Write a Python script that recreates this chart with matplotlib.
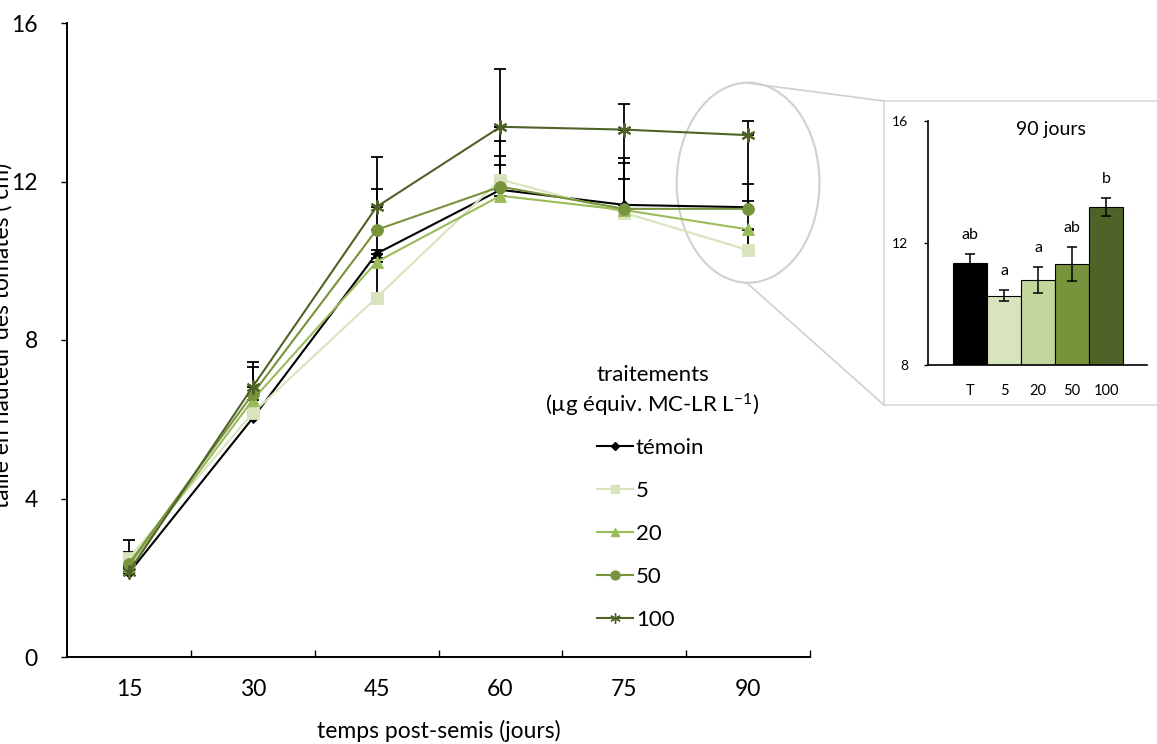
"""
Croissance en hauteur des tomates selon le traitement (MC-LR)
"""

import numpy as np
import matplotlib
matplotlib.use("Agg")
import matplotlib.pyplot as plt
from matplotlib.lines import Line2D
from matplotlib.patches import Ellipse, Rectangle

# données
jours = ["15", "30", "45", "60", "75", "90"]
noms = ["témoin", "5", "20", "50", "100"]

temoin = [2.12, 6.03, 10.18, 11.79, 11.41, 11.35]
t5 = [2.50, 6.16, 9.07, 12.05, 11.21, 10.27]
t20 = [2.30, 6.49, 9.97, 11.64, 11.28, 10.79]
t50 = [2.35, 6.64, 10.78, 11.87, 11.31, 11.31]
t100 = [2.15, 6.82, 11.36, 13.38, 13.31, 13.17]

err_temoin = [0.10, 0.12, 0.10, 0.63, 1.90, 0.16]
err_5 = [0.45, 0.12, 1.71, 0.98, 0.86, 0.50]
err_20 = [0.10, 0.10, 0.10, 1.74, 1.19, 2.40]
err_50 = [0.30, 0.68, 1.02, 0.78, 1.29, 0.63]
err_100 = [0.10, 0.63, 1.27, 1.47, 0.65, 0.36]

# encart 90 jours
encart_noms = ["T", "5", "20", "50", "100"]
encart_err = [0.30, 0.18, 0.42, 0.57, 0.30]
encart_lettres = ["ab", "a", "a", "ab", "b"]

couleurs = ["#000000", "#D7E4BD", "#9BBB59", "#77933C", "#4F6228"]
couleurs_barres = ["#000000", "#D7E4BD", "#C3D69B", "#77933C", "#4F6228"]

plt.rcParams["font.family"] = ["Lato", "DejaVu Sans"]
plt.rcParams["mathtext.default"] = "regular"

W, H = 1157, 744


def fx(x):
    return x / W


def fy(y):
    return 1 - y / H


def main():
    fig = plt.figure(figsize=(W / 100, H / 100), dpi=100)

    # graphique principal
    ax = fig.add_axes([fx(67), fy(657), (810 - 67) / W, (657 - 23) / H])
    x = np.arange(len(jours))
    series = [temoin, t5, t20, t50, t100]
    erreurs = [err_temoin, err_5, err_20, err_50, err_100]
    marqueurs = [("D", 5), ("s", 8), ("^", 8), ("o", 8.5), ((6, 2, 0), 10)]

    handles = []
    for vals, errs, col, (mk, ms), nom in zip(series, erreurs, couleurs, marqueurs, noms):
        ax.errorbar(x, vals, yerr=[np.zeros(len(errs)), errs], fmt="none",
                    ecolor="black", elinewidth=1.3, capsize=4, capthick=1.3, zorder=2)
        ln, = ax.plot(x, vals, color=col, lw=1.5, marker=mk, markersize=ms,
                      markeredgewidth=1.5 if nom == "100" else 0.6,
                      markeredgecolor=col, zorder=3, label=nom)
        handles.append(ln)

    ax.set_xlim(-0.5, 5.5)
    ax.set_ylim(0, 16)
    ax.set_yticks([0, 4, 8, 12, 16])
    ax.set_xticks(x)
    ax.set_xticklabels(jours)
    ax.set_xticks(np.arange(0.5, 6, 1), minor=True)
    ax.tick_params(axis="x", which="major", length=0, pad=16, labelsize=16.5)
    ax.tick_params(axis="x", which="minor", direction="in", length=5, width=1)
    ax.tick_params(axis="y", direction="out", length=4, width=1, pad=17, labelsize=16.5)
    for s in ["top", "right"]:
        ax.spines[s].set_visible(False)
    for s in ["left", "bottom"]:
        ax.spines[s].set_linewidth(1.4)
    ax.set_xlabel("temps post-semis (jours)", fontsize=16.5, labelpad=14)

    fig.text(fx(13), fy(335), "taille en hauteur des tomates ( cm)", rotation=90,
             ha="right", va="center", fontsize=16.5)

    # légende
    fig.text(fx(653), fy(375), "traitements", ha="center", va="center", fontsize=16)
    fig.text(fx(652), fy(405), "(µg équiv. MC-LR L$^{-1}$)", ha="center", va="center",
             fontsize=16)
    leg_handles = [Line2D([0], [0], color=h.get_color(), lw=1.5, marker=h.get_marker(),
                          markersize=h.get_markersize() * 0.75,
                          markeredgecolor=h.get_color()) for h in handles]
    ax.legend(leg_handles, noms, loc="upper left", bbox_to_anchor=(fx(597), fy(438)),
              bbox_transform=fig.transFigure, frameon=False, fontsize=16,
              handlelength=1.6, handletextpad=0.15, labelspacing=1.03,
              borderpad=0, borderaxespad=0)

    # zoom sur 90 jours
    ell = Ellipse((5, 11.97), 1.153, 5.05, fill=False, edgecolor="#D0D0D0", lw=1.5,
                  zorder=1, clip_on=False)
    ax.add_patch(ell)
    fig.add_artist(Line2D([fx(747), fx(884)], [fy(83), fy(101)], color="#D0D0D0", lw=1.2))
    fig.add_artist(Line2D([fx(747), fx(884)], [fy(283), fy(405)], color="#D0D0D0", lw=1.2))
    fig.add_artist(Rectangle((fx(884), fy(405)), (1165 - 884) / W, (405 - 101) / H,
                             fill=False, edgecolor="#D9D9D9", lw=1.2))

    ins = fig.add_axes([fx(928), fy(365), (1147 - 928) / W, (365 - 121) / H])
    xb = np.arange(len(encart_noms))
    hauteurs = [s[-1] for s in series]
    ins.bar(xb, hauteurs, width=1.0, color=couleurs_barres, edgecolor="black", lw=0.8)
    ins.errorbar(xb, hauteurs, yerr=encart_err, fmt="none", ecolor="black",
                 elinewidth=1.1, capsize=3.5, capthick=1.1)
    for xi, h, e, lettre in zip(xb, hauteurs, encart_err, encart_lettres):
        ins.text(xi, h + e + 0.62, lettre, ha="center", va="center", fontsize=11.5)
    ins.set_xlim(-1.24, 5.2)
    ins.set_ylim(8, 16)
    ins.set_yticks([8, 12, 16])
    ins.set_xticks(xb)
    ins.set_xticklabels(encart_noms)
    ins.tick_params(axis="x", length=0, pad=14, labelsize=10.5)
    ins.tick_params(axis="y", direction="out", length=3, width=1, pad=11, labelsize=10)
    for s in ["top", "right"]:
        ins.spines[s].set_visible(False)
    for s in ["left", "bottom"]:
        ins.spines[s].set_linewidth(1.2)
    ins.text(0.56, 0.965, "90 jours", transform=ins.transAxes, ha="center", va="center",
             fontsize=14)

    fig.savefig("out.png", dpi=100)
    plt.close(fig)


if __name__ == "__main__":
    main()
